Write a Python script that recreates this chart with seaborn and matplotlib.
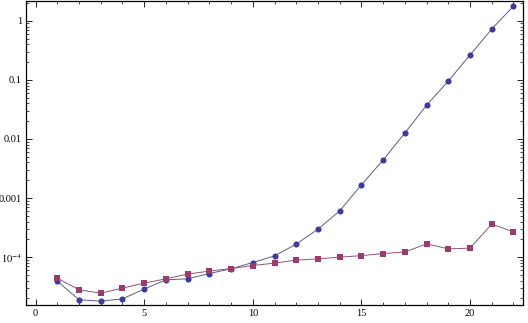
import numpy as np
import pandas as pd
import matplotlib
matplotlib.use("Agg")
import matplotlib.pyplot as plt
import seaborn as sns
from matplotlib.ticker import FixedLocator, FixedFormatter, NullFormatter

x_values = list(range(1, 23))
series_a = [3.93e-5, 1.90e-5, 1.80e-5, 1.97e-5, 2.88e-5, 4.13e-5, 4.30e-5, 5.28e-5,
            6.34e-5, 8.11e-5, 1.05e-4, 1.66e-4, 2.97e-4, 6.06e-4, 1.67e-3, 4.41e-3,
            0.0126, 0.0372, 0.0957, 0.263, 0.724, 1.77]
series_b = [4.42e-5, 2.80e-5, 2.46e-5, 2.99e-5, 3.63e-5, 4.30e-5, 5.16e-5, 5.80e-5,
            6.41e-5, 7.21e-5, 7.92e-5, 8.90e-5, 9.35e-5, 1.00e-4, 1.06e-4, 1.15e-4,
            1.22e-4, 1.68e-4, 1.38e-4, 1.42e-4, 3.61e-4, 2.68e-4]
y_tick_values = [1e-4, 1e-3, 1e-2, 1e-1, 1]
y_tick_labels = [r"$10^{-4}$", "0.001", "0.01", "0.1", "1"]
x_tick_values = [0, 5, 10, 15, 20]
x_tick_labels = ["0", "5", "10", "15", "20"]

sns.set_style("white")
plt.rcParams["font.family"] = ["Liberation Serif", "DejaVu Serif"]
plt.rcParams["mathtext.fontset"] = "stix"

fig = plt.figure(figsize=(5.28, 3.23), dpi=100)
ax = fig.add_axes([26 / 528, 1 - 305 / 323, (523 - 26) / 528, (305 - 1) / 323])

df_a = pd.DataFrame({"x": x_values, "y": series_a})
df_b = pd.DataFrame({"x": x_values, "y": series_b})

blue = (0.24, 0.24, 0.6)
red = (0.6, 0.24, 0.4428)
blue_line = (0.36, 0.36, 0.52)
red_line = (0.55, 0.34, 0.44)
sns.lineplot(data=df_a, x="x", y="y", ax=ax, color=blue_line, lw=0.7, marker="o",
             markersize=4.4, markeredgewidth=0, markerfacecolor=blue)
sns.lineplot(data=df_b, x="x", y="y", ax=ax, color=red_line, lw=0.7, marker="s",
             markersize=3.9, markeredgewidth=0, markerfacecolor=red)

ax.set_yscale("log")
ax.set_xlim(-0.44, 22.44)
ax.set_ylim(10 ** -4.81, 10 ** 0.335)

ax.yaxis.set_major_locator(FixedLocator(y_tick_values))
ax.yaxis.set_major_formatter(FixedFormatter(y_tick_labels))
minor = [m * 10.0 ** e for e in range(-5, 1) for m in range(2, 10)]
ax.yaxis.set_minor_locator(FixedLocator(minor))
ax.yaxis.set_minor_formatter(NullFormatter())

ax.xaxis.set_major_locator(FixedLocator(x_tick_values))
ax.xaxis.set_major_formatter(FixedFormatter(x_tick_labels))
ax.xaxis.set_minor_locator(FixedLocator([i for i in range(0, 23) if i % 5 != 0]))

ax.set_xlabel("")
ax.set_ylabel("")
for s in ax.spines.values():
    s.set_visible(True)
    s.set_color("black")
    s.set_linewidth(0.9)

ax.tick_params(which="both", direction="in", top=True, right=True,
               bottom=True, left=True, labelsize=7.5, colors="black", pad=3)
ax.tick_params(which="major", length=4.5, width=0.6)
ax.tick_params(which="minor", length=2.5, width=0.5)
ax.tick_params(axis="x", which="both", labeltop=False)
ax.tick_params(axis="y", which="both", labelright=False)

fig.savefig("out.png", dpi=100)
